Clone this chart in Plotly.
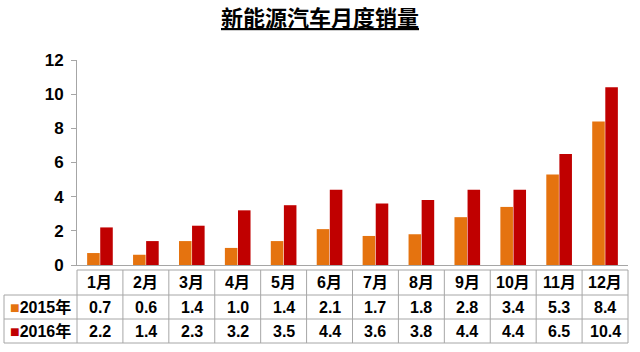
import plotly.graph_objects as go

months = ["1月", "2月", "3月", "4月", "5月", "6月", "7月", "8月", "9月", "10月", "11月", "12月"]
sales_2015 = [0.7, 0.6, 1.4, 1.0, 1.4, 2.1, 1.7, 1.8, 2.8, 3.4, 5.3, 8.4]
sales_2016 = [2.2, 1.4, 2.3, 3.2, 3.5, 4.4, 3.6, 3.8, 4.4, 4.4, 6.5, 10.4]
series_names = ["2015年", "2016年"]
y_ticks = [0, 2, 4, 6, 8, 10, 12]
title_text = "新能源汽车月度销量"

C15 = "#E5730F"
C16 = "#C00000"
GRID = "#A6A6A6"
FONT = "Liberation Sans, Arial, Noto Sans CJK SC, sans-serif"

W, H = 640, 352
x0p, x1p = 77 / W, 628 / W
y0p, y1p = (H - 265) / H, (H - 60) / H

fig = go.Figure()
fig.add_trace(go.Bar(x=months, y=sales_2015, name=series_names[0],
                     marker=dict(color=C15, line=dict(width=0))))
fig.add_trace(go.Bar(x=months, y=sales_2016, name=series_names[1],
                     marker=dict(color=C16, line=dict(width=0))))

n = len(months)
cw = (x1p - x0p) / n

def py(pix):
    return (H - pix) / H

shapes = []
line = dict(color=GRID, width=1)
t_top, r1_top, r2_top, t_bot = 270, 295, 319, 343
left_edge = 4 / W
shapes.append(dict(type="line", xref="paper", yref="paper", x0=x0p, x1=x1p, y0=py(t_top), y1=py(t_top), line=line))
for yy in (r1_top, r2_top, t_bot):
    shapes.append(dict(type="line", xref="paper", yref="paper", x0=left_edge, x1=x1p, y0=py(yy), y1=py(yy), line=line))
shapes.append(dict(type="line", xref="paper", yref="paper", x0=left_edge, x1=left_edge, y0=py(r1_top), y1=py(t_bot), line=line))
for i in range(n + 1):
    xx = x0p + i * cw
    shapes.append(dict(type="line", xref="paper", yref="paper", x0=xx, x1=xx, y0=py(t_top), y1=py(t_bot), line=line))

annotations = []
tf = dict(family=FONT, size=16, color="black")

def ann(x, y, text, font):
    return dict(x=x, y=y, xref="paper", yref="paper", text=text, showarrow=False,
                xanchor="center", yanchor="middle", font=font)

for i, m in enumerate(months):
    cx = x0p + (i + 0.5) * cw
    annotations.append(ann(cx, py((t_top + r1_top) / 2), "<b>%s</b>" % m, tf))
    annotations.append(ann(cx, py((r1_top + r2_top) / 2), "<b>%.1f</b>" % sales_2015[i], tf))
    annotations.append(ann(cx, py((r2_top + t_bot) / 2), "<b>%.1f</b>" % sales_2016[i], tf))
lx = (left_edge + x0p) / 2
for name, col, (a, b) in ((series_names[0], C15, (r1_top, r2_top)), (series_names[1], C16, (r2_top, t_bot))):
    annotations.append(ann(lx, py((a + b) / 2),
                           "<span style='color:%s'>■</span><b>%s</b>" % (col, name), tf))

annotations.append(ann(0.5, py(19), "<b>%s</b>" % title_text,
                       dict(family=FONT, size=22, color="black", lineposition="under")))

fig.update_layout(
    width=W, height=H,
    margin=dict(l=0, r=0, t=0, b=0, autoexpand=False),
    paper_bgcolor="white", plot_bgcolor="white",
    showlegend=False,
    barmode="group", bargap=0.43, bargroupgap=0.04,
    shapes=shapes, annotations=annotations,
    xaxis=dict(domain=[x0p, x1p], showticklabels=False, ticks="", showgrid=False,
               showline=True, linecolor=GRID, linewidth=1, zeroline=False),
    yaxis=dict(domain=[y0p, y1p], range=[0, 12], tickvals=y_ticks, showgrid=False,
               showline=True, linecolor=GRID, linewidth=1, zeroline=False,
               ticks="outside", ticklen=5, tickcolor=GRID,
               tickfont=dict(family=FONT, size=17, color="black", weight="bold"),
               ticklabelstandoff=4),
)

fig.write_html("out.html")
